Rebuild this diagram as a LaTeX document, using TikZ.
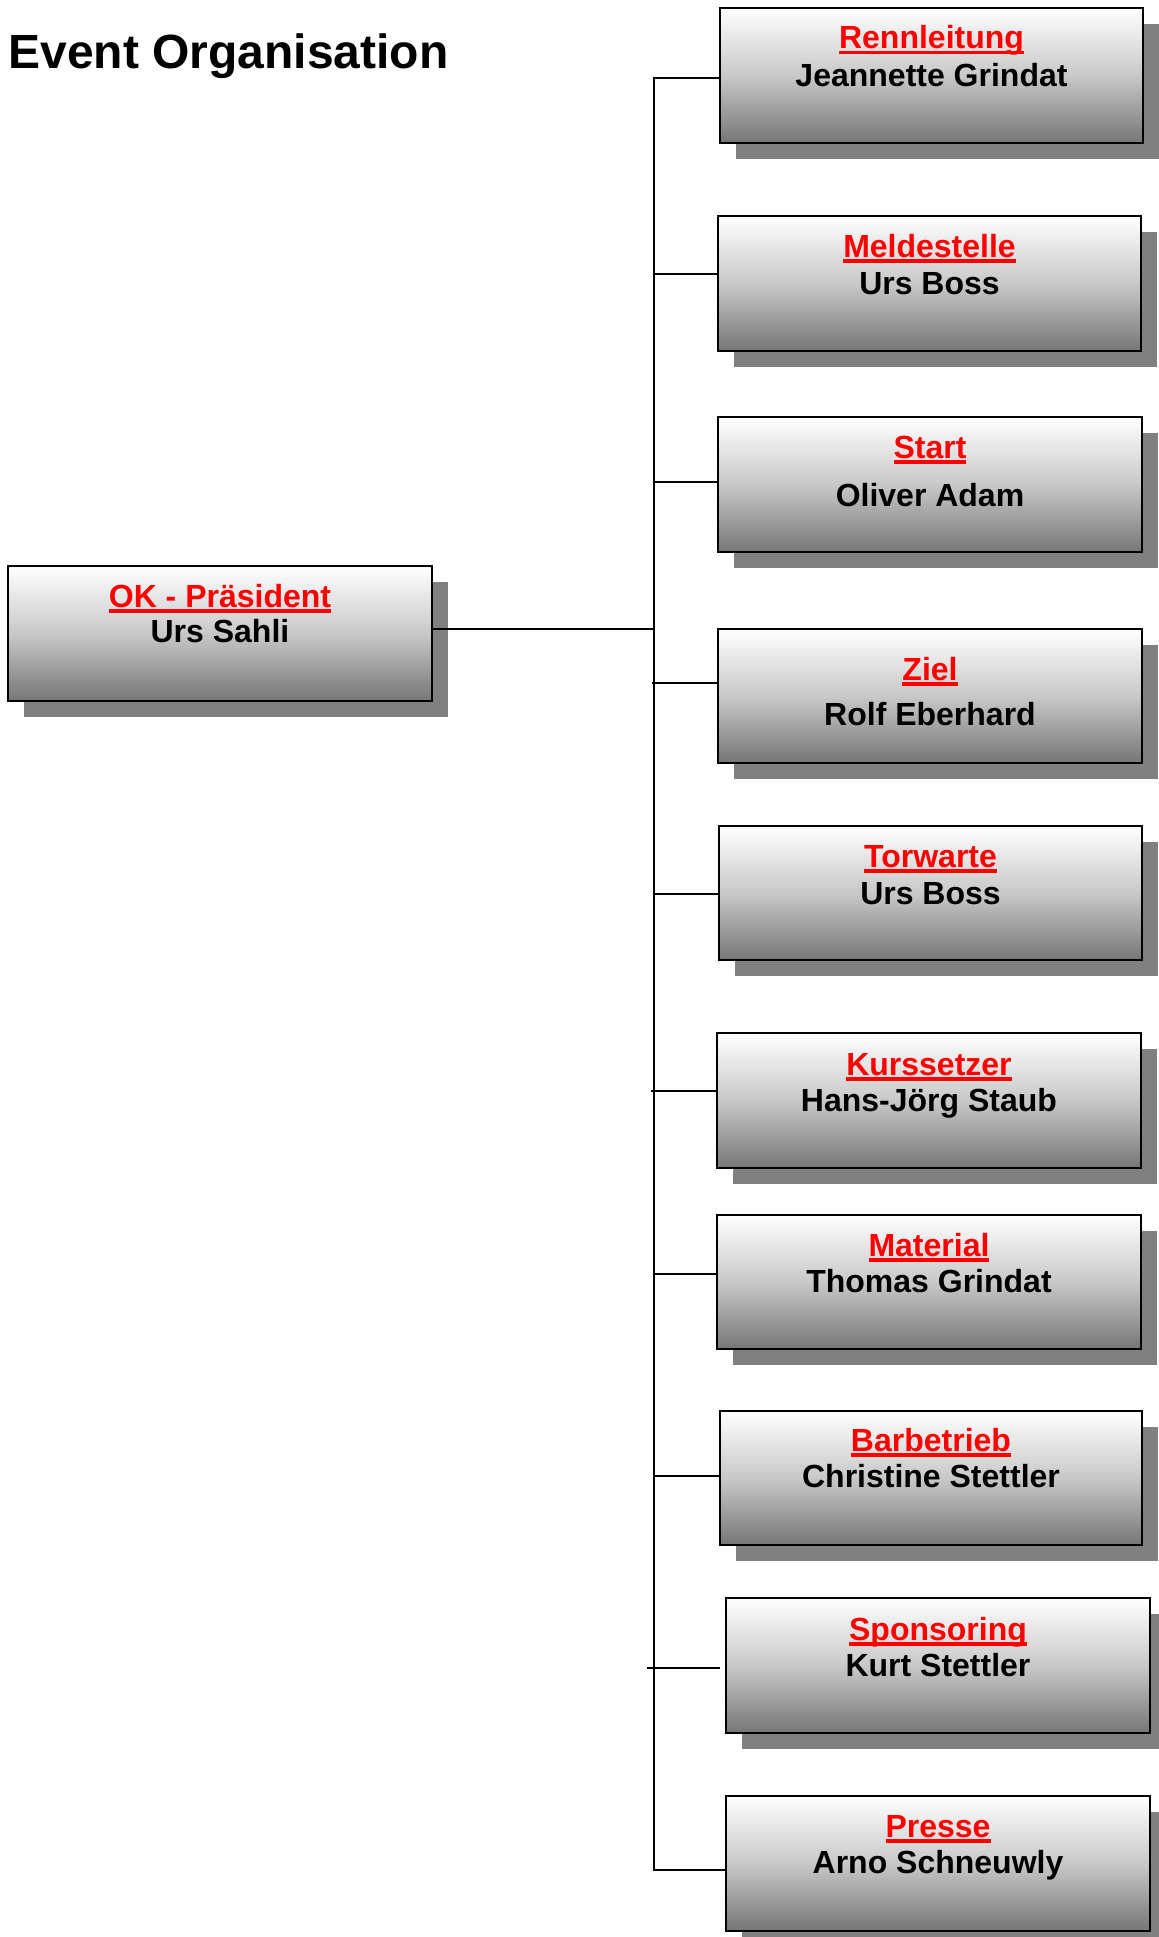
\documentclass[tikz,border=0pt]{standalone}
\usepackage{fontspec}
\setmainfont{Liberation Sans}
\usetikzlibrary{shadows}
\definecolor{shadowgray}{RGB}{128,128,128}
\definecolor{boxbottom}{RGB}{118,118,118}
\definecolor{boxmiddle}{RGB}{200,200,200}
\definecolor{headred}{RGB}{255,0,0}
\newsavebox\ulbox
\newcommand\redul[1]{\sbox\ulbox{#1}\rlap{\textcolor{headred}{\rule[-2.75pt]{\wd\ulbox}{1.75pt}}}\usebox\ulbox}
\tikzset{
  orgrect/.style={rectangle, draw=black, line width=0.9pt, top color=white, bottom color=boxbottom, middle color=boxmiddle,
    inner sep=0pt, drop shadow={shadow xshift=8pt, shadow yshift=-8pt, opacity=1, fill=shadowgray, draw=none}},
  headtext/.style={anchor=base, inner sep=0pt, text=headred, font=\fontsize{16pt}{18pt}\selectfont\bfseries},
  nametext/.style={anchor=base, inner sep=0pt, text=black, font=\fontsize{16pt}{18pt}\selectfont\bfseries},
  conn/.style={draw=black, line width=0.9pt},
}
\newcommand\orgbox[9]{%
  \node[orgrect, minimum width={(#4-#2)*0.5pt}, minimum height={(#5-#3)*0.5pt}] (#1) at ({(#2+#4)/2},{(#3+#5)/2}) {};
  \node[headtext] (#1-h) at ({(#2+#4)/2},#8) {\redul{#6}};
  \node[nametext] (#1-n) at ({(#2+#4)/2},#9) {#7};
}
\begin{document}
\begin{tikzpicture}[x=0.5pt,y=-0.5pt]
\useasboundingbox (0,0) rectangle (1158,1937);
\node[anchor=base west, inner sep=0pt, font=\fontsize{24pt}{28pt}\selectfont\bfseries] (title) at (8,69) {Event Organisation};

\orgbox{ok}{8}{566}{432}{701}{OK - Präsident}{Urs Sahli}{607}{642}
\orgbox{renn}{720}{8}{1143}{143}{Rennleitung}{Jeannette Grindat}{49}{87}
\orgbox{melde}{718}{216}{1141}{351}{Meldestelle}{Urs Boss}{257}{294}
\orgbox{start}{718}{417}{1142}{552}{Start}{Oliver Adam}{458}{506}
\orgbox{ziel}{718}{629}{1142}{763}{Ziel}{Rolf Eberhard}{680}{725}
\orgbox{tor}{719}{826}{1142}{960}{Torwarte}{Urs Boss}{867}{904}
\orgbox{kurs}{717}{1033}{1141}{1168}{Kurssetzer}{Hans-Jörg Staub}{1075}{1111}
\orgbox{mat}{717}{1215}{1141}{1349}{Material}{Thomas Grindat}{1256}{1292}
\orgbox{bar}{720}{1411}{1142}{1545}{Barbetrieb}{Christine Stettler}{1451}{1487}
\orgbox{spon}{726}{1598}{1150}{1733}{Sponsoring}{Kurt Stettler}{1640}{1676}
\orgbox{pres}{726}{1796}{1150}{1931}{Presse}{Arno Schneuwly}{1837}{1873}

\coordinate (jok) at (654,629);
\coordinate (j1) at (654,78);
\coordinate (j2) at (654,274);
\coordinate (j3) at (654,482);
\coordinate (j4) at (652,683);
\coordinate (j5) at (654,894);
\coordinate (j6) at (651,1091);
\coordinate (j7) at (654,1274);
\coordinate (j8) at (654,1476);
\coordinate (j9) at (647,1668);
\coordinate (j10) at (654,1870);

\draw[conn] (ok.east |- jok) -- (jok);
\draw[conn, line join=miter] (j1 -| renn.west) -- (j1) -- (j10) -- (j10 -| pres.west);
\draw[conn] (j2) -- (j2 -| melde.west);
\draw[conn] (j3) -- (j3 -| start.west);
\draw[conn] (j4) -- (j4 -| ziel.west);
\draw[conn] (j5) -- (j5 -| tor.west);
\draw[conn] (j6) -- (j6 -| kurs.west);
\draw[conn] (j7) -- (j7 -| mat.west);
\draw[conn] (j8) -- (j8 -| bar.west);
\draw[conn, shorten >=2.5pt] (j9) -- (j9 -| spon.west);
\end{tikzpicture}
\end{document}
